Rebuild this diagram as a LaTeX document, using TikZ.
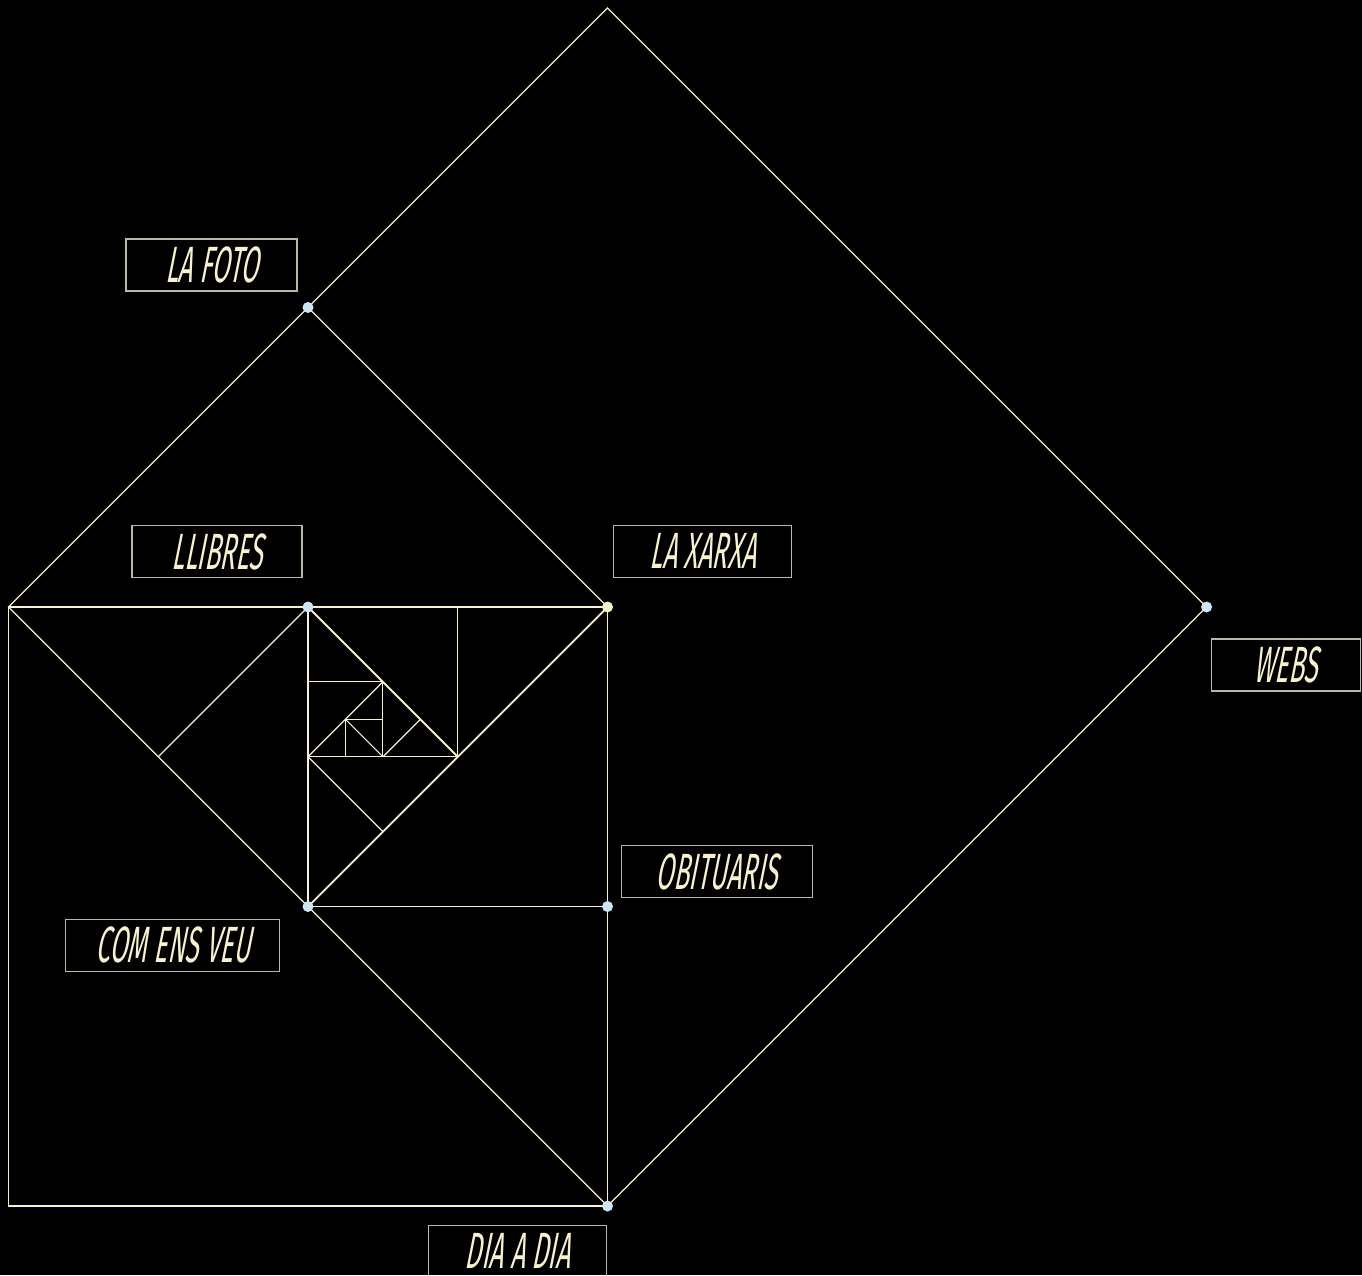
\documentclass[tikz,border=0pt]{standalone}
\usepackage{fontspec}
\newfontfamily\labfont[FakeStretch=0.5,FakeSlant=0.2]{Fira Sans}
\definecolor{ln}{RGB}{246,241,206}
\definecolor{bx}{RGB}{185,183,168}
\definecolor{dotb}{RGB}{205,228,242}
\definecolor{dotc}{RGB}{246,241,206}
\tikzset{
  geo/.style={draw=ln, line width=1.2pt, line join=miter},
  geothick/.style={draw=ln, line width=1.8pt},
  lab/.style={draw=bx, line width=1.1pt, rectangle, inner sep=0pt, minimum height=52pt,
    text=ln, font=\labfont\fontsize{51}{51}\selectfont},
  labtext/.style={inner sep=0pt, text=ln, font=\labfont\fontsize{51}{51}\selectfont},
  boxline/.style={draw=bx, line width=1.1pt},
  bdot/.style={fill=dotb},
  cdot/.style={fill=dotc}
}
\begin{document}
\begin{tikzpicture}[x=1pt,y=-1pt]
\fill[black] (0,0) rectangle (1362,1275);
\useasboundingbox (0,0) rectangle (1362,1275);
\begin{scope}[shift={(308pt,-607pt)},x=37.44pt,y=37.44pt]
  \coordinate (A) at (-8,0);
  \coordinate (B) at (0,8);
  \coordinate (T) at (8,16);
  \coordinate (R) at (24,0);
  \coordinate (Bt) at (8,-16);
  \coordinate (C) at (0,0);
  \coordinate (D) at (8,0);
  \coordinate (E) at (0,-8);
  \coordinate (F) at (8,-8);
  \coordinate (G) at (-8,-16);
  \coordinate (M) at (-4,-4);
  \coordinate (P1) at (4,0);
  \coordinate (P2) at (4,-4);
  \coordinate (P3) at (0,-4);
  \coordinate (P4) at (2,-6);
  \coordinate (Q1) at (0,-2);
  \coordinate (Q2) at (2,-2);
  \coordinate (Q3) at (2,-4);
  \coordinate (Q4) at (3,-3);
  \coordinate (S1) at (1,-3);
  \coordinate (S2) at (2,-3);
  \coordinate (S3) at (1,-4);
  % outer square
  \draw[geo] (A) -- (D) -- (Bt) -- (G) -- cycle;
  % big diamond
  \draw[geo] (A) -- (T) -- (R) -- (Bt) -- cycle;
  % medium diamond
  \draw[geo] (B) -- (D);
  \draw[geothick] (D) -- (E);
  \draw[geo] (C) -- (M);
  \draw[geothick] (C) -- (E);
  \draw[geo] (E) -- (F);
  % inner spiral
  \draw[geo] (P1) -- (P2) -- (P3);
  \draw[geothick] (C) -- (P2);
  \draw[geo] (P3) -- (P4);
  \draw[geo] (Q1) -- (Q2) -- (Q3);
  \draw[geo] (Q2) -- (P3);
  \draw[geo] (Q3) -- (Q4);
  \draw[geo] (S1) -- (S2);
  \draw[geo] (S1) -- (S3);
  \draw[geo] (S1) -- (Q3);
  % dots
  \fill[bdot] (B) circle (5.5pt);
  \fill[bdot] (C) circle (5.5pt);
  \fill[cdot] (D) circle (5.5pt);
  \fill[bdot] (E) circle (5.5pt);
  \fill[bdot] (F) circle (5.5pt);
  \fill[bdot] (Bt) circle (5.5pt);
  \fill[bdot] (R) circle (5.5pt);
\end{scope}
\node[lab, minimum width=171pt] (lafoto) at (211.5,265) {LA FOTO};
\node[lab, minimum width=170pt] (llibres) at (217,551.5) {LLIBRES};
\node[lab, minimum width=178pt] (laxarxa) at (702.5,551.3) {LA XARXA};
\node[lab, minimum width=149pt] (webs) at (1285.7,665) {WEBS};
\node[lab, minimum width=191pt] (obit) at (716.7,871.7) {OBITUARIS};
\node[lab, minimum width=214pt] (comens) at (172.8,945.2) {COM ENS VEU};
\node[labtext] (diaadia) at (517.5,1251) {DIA A DIA};
\coordinate (dbl) at (428.3,1280);
\coordinate (dtl) at (428.3,1225.7);
\coordinate (dtr) at (606.7,1225.7);
\coordinate (dbr) at (606.7,1280);
\draw[boxline] (dbl) -- (dtl) -- (dtr) -- (dbr);
\end{tikzpicture}
\end{document}
